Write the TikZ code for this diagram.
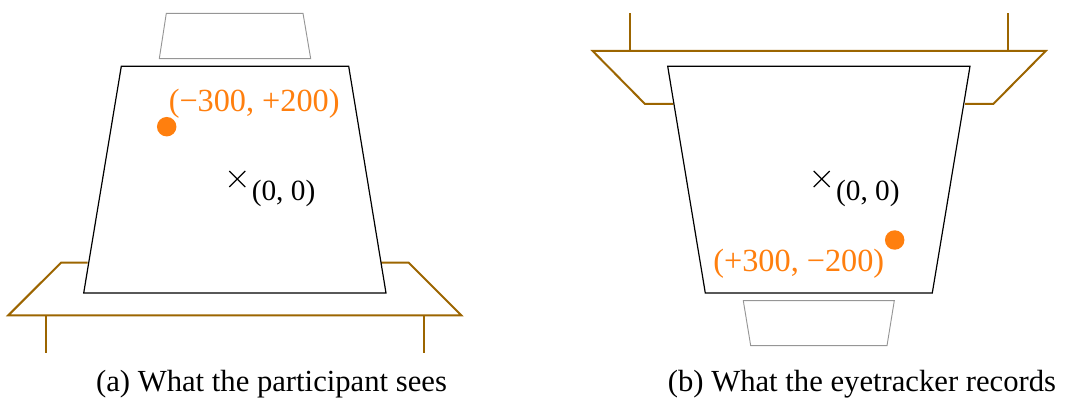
\documentclass[tikz,border=0pt]{standalone}
\usepackage{fontspec}
\setmainfont{Liberation Serif}
\usetikzlibrary{calc}
\definecolor{tablebrown}{RGB}{156,101,0}
\definecolor{ptorange}{RGB}{255,127,14}
\definecolor{camgray}{RGB}{150,150,150}
\tikzset{
  screenbox/.style={draw=black, line width=0.9pt, line join=miter},
  camerabox/.style={draw=camgray, line width=0.7pt},
  tableline/.style={draw=tablebrown, line width=1.5pt},
  gazedot/.style={circle, fill=ptorange, minimum size=14.6, inner sep=0pt, draw=none},
  lbl/.style={font=\fontsize{23}{27}\selectfont, inner sep=0pt},
  originlbl/.style={font=\fontsize{22}{26}\selectfont, inner sep=0pt},
  gazelbl/.style={font=\fontsize{24.2}{28}\selectfont, inner sep=0pt, text=ptorange},
  crossline/.style={draw=black, line width=0.9pt},
}
\begin{document}
\begin{tikzpicture}[x=0.75pt,y=-0.75pt]
\useasboundingbox (0,0) rectangle (1065,403);
% ---------- Panel (a) ----------
\draw[tableline] (87.7,262.7) -- (61,262.7) -- (8.3,315.3) -- (461.3,315.3) -- (408.7,262.7) -- (381,262.7);
\draw[tableline] (45.7,315.3) -- (45.7,352.7);
\draw[tableline] (424,315.3) -- (424,352.7);
\draw[camerabox] (166.3,13.3) -- (303,13.3) -- (310.7,58.7) -- (159.3,58.7) -- cycle;
\draw[screenbox, fill=white] (121.3,66.3) -- (348.7,66.3) -- (386,293) -- (83.7,293) -- cycle;
\coordinate (crossA) at (237.3,179);
\draw[crossline] ($(crossA)+(-8,-8)$) -- ($(crossA)+(8,8)$);
\draw[crossline] ($(crossA)+(-8,8)$) -- ($(crossA)+(8,-8)$);
\node[originlbl, anchor=base west] (originA) at (251.5,200.5) {(0, 0)};
\node[gazedot] (dotA) at (166.7,126.7) {};
\node[gazelbl, anchor=base west] (labA) at (168.5,111.7) {(−300, +200)};
\node[lbl, anchor=base] (capA) at (271.5,391) {(a) What the participant sees};
% ---------- Panel (b) ----------
\draw[tableline] (673.3,104) -- (645,104) -- (592.7,51) -- (1045.7,51) -- (993.3,104) -- (965,104);
\draw[tableline] (630,13.3) -- (630,51);
\draw[tableline] (1008,13.3) -- (1008,51);
\draw[screenbox, fill=white] (667.7,66.3) -- (970,66.3) -- (932.3,293) -- (705.3,293) -- cycle;
\draw[camerabox] (743.3,300.7) -- (894.3,300.7) -- (887,345.7) -- (750.7,345.7) -- cycle;
\coordinate (crossB) at (821.7,179);
\draw[crossline] ($(crossB)+(-8,-8)$) -- ($(crossB)+(8,8)$);
\draw[crossline] ($(crossB)+(-8,8)$) -- ($(crossB)+(8,-8)$);
\node[originlbl, anchor=base west] (originB) at (835.8,200.5) {(0, 0)};
\node[gazedot] (dotB) at (894.7,240) {};
\node[gazelbl, anchor=base east] (labB) at (884.5,271.7) {(+300, −200)};
\node[lbl, anchor=base] (capB) at (862,391) {(b) What the eyetracker records};
\end{tikzpicture}
\end{document}
